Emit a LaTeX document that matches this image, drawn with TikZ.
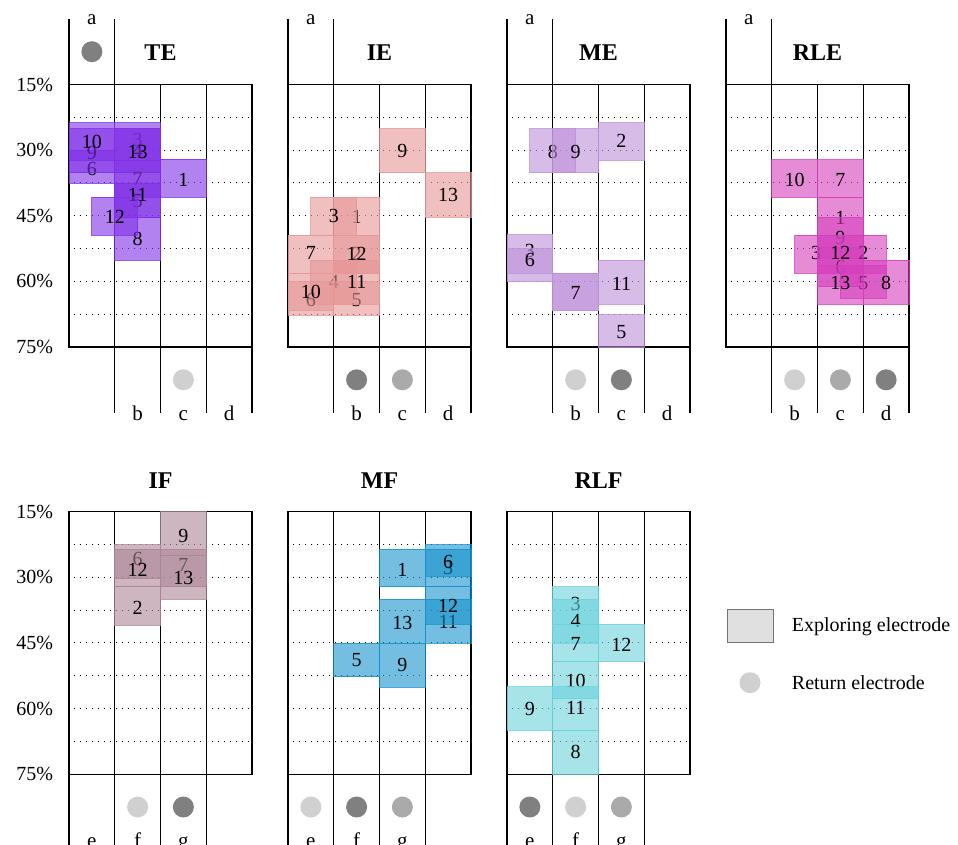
\documentclass[tikz,border=0pt]{standalone}
\usepackage{fontspec}
\setmainfont{Liberation Serif}
\usepackage{tikz}
\definecolor{tecol}{RGB}{127,47,230}
\definecolor{iecol}{RGB}{230,150,150}
\definecolor{mecol}{RGB}{190,143,217}
\definecolor{rlecol}{RGB}{213,63,188}
\definecolor{ifcol}{RGB}{172,133,150}
\definecolor{mfcol}{RGB}{22,147,205}
\definecolor{rlfcol}{RGB}{107,210,220}
\definecolor{retlight}{RGB}{208,208,208}
\definecolor{retmid}{RGB}{170,170,170}
\definecolor{retdark}{RGB}{128,128,128}
\colorlet{pc}{black}
\tikzset{
  gridline/.style={line width=1.4pt, black},
  dotline/.style={line width=1pt, black, dash pattern=on 1pt off 5pt, dash phase=1pt},
  elecrect/.style={fill=pc, fill opacity=0.6, draw=pc, draw opacity=0.8, line width=0.8pt},
  numlabel/.style={inner sep=0pt, font=\fontsize{20}{23}\selectfont},
  pctlabel/.style={inner sep=0pt, anchor=east, font=\fontsize{20}{23}\selectfont},
  collabel/.style={inner sep=0pt, anchor=base, font=\fontsize{21}{24}\selectfont},
  paneltitle/.style={inner sep=0pt, font=\fontsize{24}{27}\selectfont\bfseries},
  retdot/.style={circle, inner sep=0pt, minimum size=21pt, fill=#1},
  legtext/.style={inner sep=0pt, anchor=base west, font=\fontsize{20}{23}\selectfont},
}
\newcommand\elecbox[8]{\draw[elecrect] (#2,#3) rectangle (#4,#5); \node[numlabel] (#1) at (#7,#8) {#6};}
\newcommand\gridbody{%
  \draw[gridline] (0,15) rectangle (4,75);
  \foreach \c in {1,2,3} \draw[gridline] (\c,15) -- (\c,75);
  \foreach \p in {22.5,30,37.5,45,52.5,60,67.5} \draw[dotline] (0,\p) -- (4,\p);
}
\newcommand\topframe[1]{%
  \draw[gridline] (0,0) -- (0,15);
  \draw[gridline] (1,0) -- (1,15);
  \node[collabel] (#1a) at (0.5,1.4) {a};
  \foreach \c in {1,2,3,4} \draw[gridline] (\c,75) -- (\c,90);
  \node[collabel] (#1b) at (1.5,91.85) {b};
  \node[collabel] (#1c) at (2.5,91.85) {c};
  \node[collabel] (#1d) at (3.5,91.85) {d};
}
\newcommand\bottomframe[1]{%
  \foreach \c in {0,1,2,3} \draw[gridline] (\c,75) -- (\c,92);
  \node[collabel] (#1e) at (0.5,91.85) {e};
  \node[collabel] (#1f) at (1.5,91.85) {f};
  \node[collabel] (#1g) at (2.5,91.85) {g};
}
\newcommand\pctlabels[1]{%
  \foreach \p in {15,30,45,60,75} \node[pctlabel] (#1p\p) at (-0.343,\p) {\p\%};
}
\begin{document}
\begin{tikzpicture}[x=1pt,y=-1pt]
\useasboundingbox (0,0) rectangle (958,845);
\clip (0,0) rectangle (958,845);

% ---------------- TE ----------------
\begin{scope}[shift={(69pt,-18.875pt)}, x=45.75pt, y=-4.375pt]
  \colorlet{pc}{tecol}
  \gridbody \topframe{te} \pctlabels{te}
  \node[paneltitle] (teT) at (2,7.8) {TE};
  \node[retdot=retdark] (teRa) at (0.5,7.5) {};
  \node[retdot=retlight] (teRc) at (2.5,82.5) {};
  \elecbox{te1}{2}{32.1}{3}{40.8}{1}{2.5}{36.7}
  \elecbox{te6}{0}{30.0}{1}{37.5}{6}{0.5}{34.2}
  \elecbox{te9}{0}{25.1}{1}{35.2}{9}{0.5}{30.6}
  \elecbox{te10}{0}{23.7}{1}{32.3}{10}{0.5}{28.1}
  \elecbox{te3}{1}{23.7}{2}{32.3}{3}{1.5}{27.6}
  \elecbox{te4}{1}{25.1}{2}{35.2}{4}{1.5}{30.2}
  \elecbox{te13}{1}{25.1}{2}{35.2}{13}{1.5}{30.4}
  \elecbox{te7}{1}{32.3}{2}{40.8}{7}{1.5}{36.5}
  \elecbox{te5}{1}{37.5}{2}{45.3}{5}{1.5}{41.6}
  \elecbox{te11}{1}{35.2}{2}{45.3}{11}{1.5}{40.2}
  \elecbox{te8}{1}{45.3}{2}{55.2}{8}{1.5}{50.2}
  \elecbox{te12}{0.5}{40.8}{1.5}{49.5}{12}{1.0}{45.2}
\end{scope}

% ---------------- IE ----------------
\begin{scope}[shift={(288pt,-18.875pt)}, x=45.75pt, y=-4.375pt]
  \colorlet{pc}{iecol}
  \gridbody \topframe{ie}
  \node[paneltitle] (ieT) at (2,7.8) {IE};
  \node[retdot=retdark] (ieRb) at (1.5,82.5) {};
  \node[retdot=retmid] (ieRc) at (2.5,82.5) {};
  \elecbox{ie9}{2}{25.1}{3}{35.2}{9}{2.5}{30.3}
  \elecbox{ie13}{3}{35.2}{4}{45.3}{13}{3.5}{40.3}
  \elecbox{ie1}{1}{40.8}{2}{49.5}{1}{1.5}{45.3}
  \elecbox{ie3}{0.5}{40.8}{1.5}{49.5}{3}{1.0}{45.1}
  \elecbox{ie2}{1}{49.5}{2}{58.1}{2}{1.5}{53.8}
  \elecbox{ie7}{0}{49.5}{1}{58.1}{7}{0.5}{53.6}
  \elecbox{ie12}{1}{49.5}{2}{58.1}{12}{1.5}{53.8}
  \elecbox{ie4}{0.5}{55.2}{1.5}{65.2}{4}{1.0}{60.1}
  \elecbox{ie6}{0}{60.1}{1}{67.7}{6}{0.5}{64.3}
  \elecbox{ie5}{1}{60.1}{2}{67.7}{5}{1.5}{64.3}
  \elecbox{ie10}{0}{58.1}{1}{66.6}{10}{0.5}{62.4}
  \elecbox{ie11}{1}{55.2}{2}{65.2}{11}{1.5}{60.1}
\end{scope}

% ---------------- ME ----------------
\begin{scope}[shift={(507pt,-18.875pt)}, x=45.75pt, y=-4.375pt]
  \colorlet{pc}{mecol}
  \gridbody \topframe{me}
  \node[paneltitle] (meT) at (2,7.8) {ME};
  \node[retdot=retlight] (meRb) at (1.5,82.5) {};
  \node[retdot=retdark] (meRc) at (2.5,82.5) {};
  \elecbox{me8}{0.5}{25.1}{1.5}{35.2}{8}{1.0}{30.5}
  \elecbox{me9}{1}{25.1}{2}{35.2}{9}{1.5}{30.5}
  \elecbox{me2}{2}{23.7}{3}{32.3}{2}{2.5}{28.0}
  \elecbox{me3}{0}{49.3}{1}{58.1}{3}{0.5}{53.0}
  \elecbox{me6}{0}{52.5}{1}{60.1}{6}{0.5}{55.0}
  \draw[elecrect] (1,58.1) rectangle (2,66.6);
  \elecbox{me7}{1}{58.1}{2}{66.6}{7}{1.5}{62.6}
  \elecbox{me11}{2}{55.2}{3}{65.2}{11}{2.5}{60.6}
  \elecbox{me5}{2}{67.6}{3}{75.0}{5}{2.5}{71.5}
\end{scope}

% ---------------- RLE ----------------
\begin{scope}[shift={(726pt,-18.875pt)}, x=45.75pt, y=-4.375pt]
  \colorlet{pc}{rlecol}
  \gridbody \topframe{rle}
  \node[paneltitle] (rleT) at (2,7.8) {RLE};
  \node[retdot=retlight] (rleRb) at (1.5,82.5) {};
  \node[retdot=retmid] (rleRc) at (2.5,82.5) {};
  \node[retdot=retdark] (rleRd) at (3.5,82.5) {};
  \elecbox{rle10}{1}{32.15}{2}{40.8}{10}{1.5}{36.9}
  \elecbox{rle7}{2}{32.15}{3}{40.8}{7}{2.5}{36.9}
  \elecbox{rle1}{2}{40.8}{3}{49.5}{1}{2.5}{45.5}
  \elecbox{rle9}{2}{45.3}{3}{54.7}{9}{2.5}{50.0}
  \elecbox{rle3}{1.5}{49.5}{2.5}{58.1}{3}{1.97}{53.6}
  \elecbox{rle6}{2}{52.2}{3}{61.2}{6}{2.5}{56.6}
  \elecbox{rle5}{2.5}{56.3}{3.5}{63.9}{5}{3.0}{60.3}
  \elecbox{rle2}{2.5}{49.5}{3.5}{58.1}{2}{3.0}{53.6}
  \elecbox{rle12}{2}{49.5}{3}{58.1}{12}{2.5}{53.6}
  \elecbox{rle13}{2}{56.3}{3}{65.2}{13}{2.5}{60.4}
  \elecbox{rle8}{3}{55.2}{4}{65.2}{8}{3.5}{60.3}
\end{scope}

% ---------------- IF ----------------
\begin{scope}[shift={(69pt,-446.075pt)}, x=45.75pt, y=-4.375pt]
  \colorlet{pc}{ifcol}
  \gridbody \bottomframe{if} \pctlabels{if}
  \node[paneltitle] (ifT) at (2,7.8) {IF};
  \node[retdot=retlight] (ifRf) at (1.5,82.5) {};
  \node[retdot=retdark] (ifRg) at (2.5,82.5) {};
  \elecbox{if9}{2}{15}{3}{24.9}{9}{2.5}{20.6}
  \elecbox{if6}{1}{22.5}{2}{30.2}{6}{1.5}{25.7}
  \elecbox{if7}{2}{23.6}{3}{32.1}{7}{2.5}{27.2}
  \elecbox{if12}{1}{23.6}{2}{32.1}{12}{1.5}{28.3}
  \elecbox{if13}{2}{24.9}{3}{35.0}{13}{2.5}{30.2}
  \elecbox{if2}{1}{32.1}{2}{40.9}{2}{1.5}{36.9}
\end{scope}

% ---------------- MF ----------------
\begin{scope}[shift={(288pt,-446.075pt)}, x=45.75pt, y=-4.375pt]
  \colorlet{pc}{mfcol}
  \gridbody \bottomframe{mf}
  \node[paneltitle] (mfT) at (2,7.8) {MF};
  \node[retdot=retlight] (mfRe) at (0.5,82.5) {};
  \node[retdot=retdark] (mfRf) at (1.5,82.5) {};
  \node[retdot=retmid] (mfRg) at (2.5,82.5) {};
  \elecbox{mf1}{2}{23.6}{3}{32.1}{1}{2.5}{28.2}
  \elecbox{mf3}{3}{23.6}{4}{32.1}{3}{3.5}{27.9}
  \elecbox{mf6}{3}{22.5}{4}{29.8}{6}{3.5}{26.5}
  \elecbox{mf11}{3}{35.0}{4}{45.1}{11}{3.5}{40.1}
  \elecbox{mf12}{3}{32.1}{4}{40.7}{12}{3.5}{36.5}
  \elecbox{mf13}{2}{35.0}{3}{45.1}{13}{2.5}{40.4}
  \elecbox{mf5}{1}{45.1}{2}{52.7}{5}{1.5}{48.9}
  \elecbox{mf9}{2}{45.1}{3}{55.1}{9}{2.5}{50.0}
\end{scope}

% ---------------- RLF ----------------
\begin{scope}[shift={(507pt,-446.075pt)}, x=45.75pt, y=-4.375pt]
  \colorlet{pc}{rlfcol}
  \gridbody \bottomframe{rlf}
  \node[paneltitle] (rlfT) at (2,7.8) {RLF};
  \node[retdot=retdark] (rlfRe) at (0.5,82.5) {};
  \node[retdot=retlight] (rlfRf) at (1.5,82.5) {};
  \node[retdot=retmid] (rlfRg) at (2.5,82.5) {};
  \elecbox{rlf3}{1}{32.1}{2}{40.7}{3}{1.5}{36.1}
  \elecbox{rlf4}{1}{35.0}{2}{45.1}{4}{1.5}{40.0}
  \elecbox{rlf7}{1}{40.7}{2}{49.3}{7}{1.5}{45.3}
  \elecbox{rlf12}{2}{40.7}{3}{49.3}{12}{2.5}{45.5}
  \elecbox{rlf10}{1}{49.3}{2}{57.7}{10}{1.5}{53.6}
  \elecbox{rlf9}{0}{55.0}{1}{65.0}{9}{0.5}{60.2}
  \elecbox{rlf11}{1}{55.0}{2}{65.0}{11}{1.5}{59.9}
  \elecbox{rlf8}{1}{65.0}{2}{75.0}{8}{1.5}{70.0}
\end{scope}

% ---------------- legend ----------------
\node[draw=black!55, fill=black!12, line width=1pt, minimum width=46pt, minimum height=32.7pt, inner sep=0pt] (legrect) at (750.3,626.3) {};
\node[legtext] (legtxt1) at (791.7,631.7) {Exploring electrode};
\node[retdot=retlight] (legdot) at (750,682.7) {};
\node[legtext] (legtxt2) at (791.7,689.3) {Return electrode};
\end{tikzpicture}
\end{document}
